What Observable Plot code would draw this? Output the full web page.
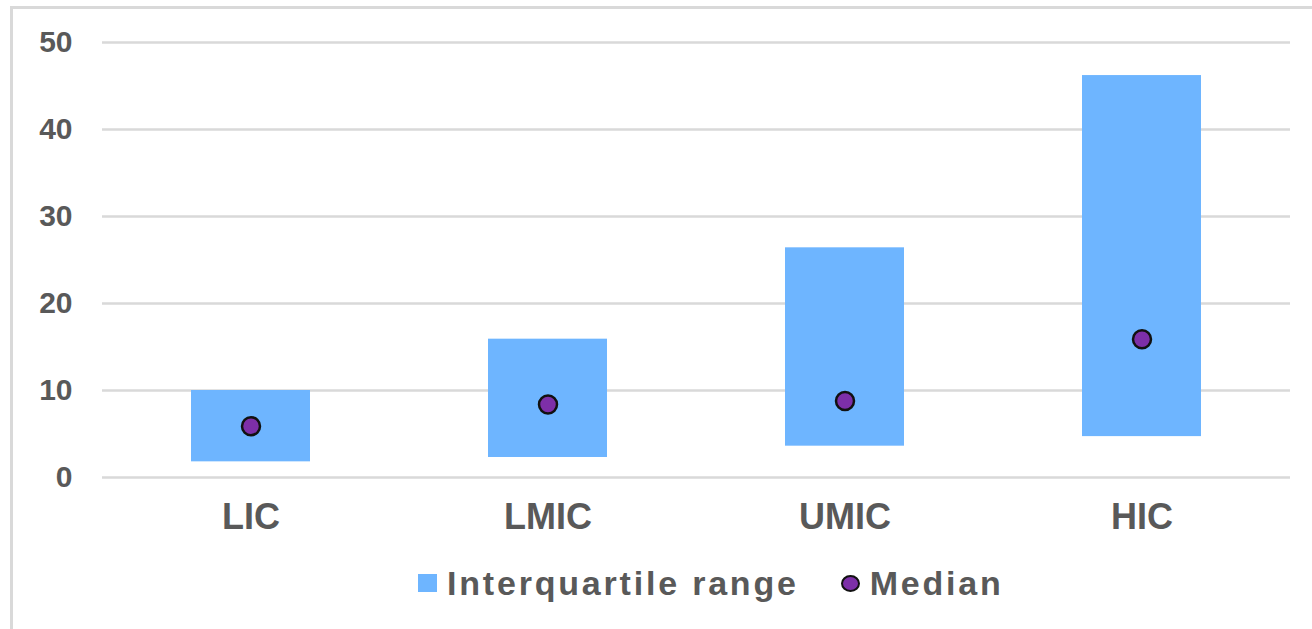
<!DOCTYPE html>
<html>
<head>
<meta charset="utf-8">
<script src="https://cdn.jsdelivr.net/npm/d3@7"></script>
<script src="https://cdn.jsdelivr.net/npm/@observablehq/plot@0.6"></script>
<style>
  html, body { margin: 0; padding: 0; background: #fff; overflow: hidden; }
  body { width: 1312px; height: 629px; position: relative; font-family: "Liberation Sans", Arial, sans-serif; }
  #frame { position: absolute; left: 10px; top: 6px; width: 2000px; height: 2000px;
           border-top: 3px solid #D9D9D9; border-left: 3px solid #D9D9D9; box-sizing: border-box; }
  #chart { position: absolute; left: 0; top: 0; }
  #legend { position: absolute; left: 418px; top: 564px; height: 38px; display: flex; align-items: center;
            font-weight: bold; font-size: 34px; letter-spacing: 2.8px; color: #595959; line-height: 38px; }
  .sq { width: 19px; height: 18px; background: #6EB5FF; margin-right: 10px; }
  .dotl { width: 15px; height: 13px; border-radius: 50%; background: #7D2FA8; border: 2.5px solid #111; margin-left: 42px; margin-right: 10px; }
</style>
</head>
<body>
<div id="frame"></div>
<div id="chart"></div>
<div id="legend"><div class="sq"></div><span>Interquartile range</span><div class="dotl"></div><span>Median</span></div>
<script>
const categories = ["LIC", "LMIC", "UMIC", "HIC"];
const q1 = [1.8, 2.3, 3.6, 4.7];
const q3 = [10.0, 15.9, 26.4, 46.2];
const median = [5.9, 8.4, 8.8, 15.9];
const yTicks = [0, 10, 20, 30, 40, 50];

const data = categories.map((c, i) => ({cat: c, q1: q1[i], q3: q3[i], median: median[i]}));

const chart = Plot.plot({
  width: 1312,
  height: 545,
  marginTop: 42,
  marginBottom: 68,
  marginLeft: 102,
  marginRight: 22,
  style: {fontFamily: "'Liberation Sans', Arial, sans-serif", color: "#595959", background: "transparent", overflow: "visible"},
  x: {domain: categories, paddingInner: 0.6, paddingOuter: 0.3, label: null},
  y: {domain: [0, 50], label: null},
  marks: [
    Plot.gridY(yTicks, {stroke: "#D9D9D9", strokeOpacity: 1, strokeWidth: 2.5}),
    Plot.barY(data, {x: "cat", y1: "q1", y2: "q3", fill: "#6EB5FF"}),
    Plot.dot(data, {x: "cat", y: "median", r: 9, fill: "#7D2FA8", stroke: "#111", strokeWidth: 2.5}),
    Plot.axisY({ticks: yTicks, tickSize: 0, tickPadding: 30, fontSize: 30, fontWeight: "bold", fill: "#595959", label: null}),
    Plot.axisX({tickSize: 0, tickPadding: 26, fontSize: 36, fontWeight: "bold", fill: "#595959", label: null})
  ]
});
document.getElementById("chart").appendChild(chart);
</script>
</body>
</html>
